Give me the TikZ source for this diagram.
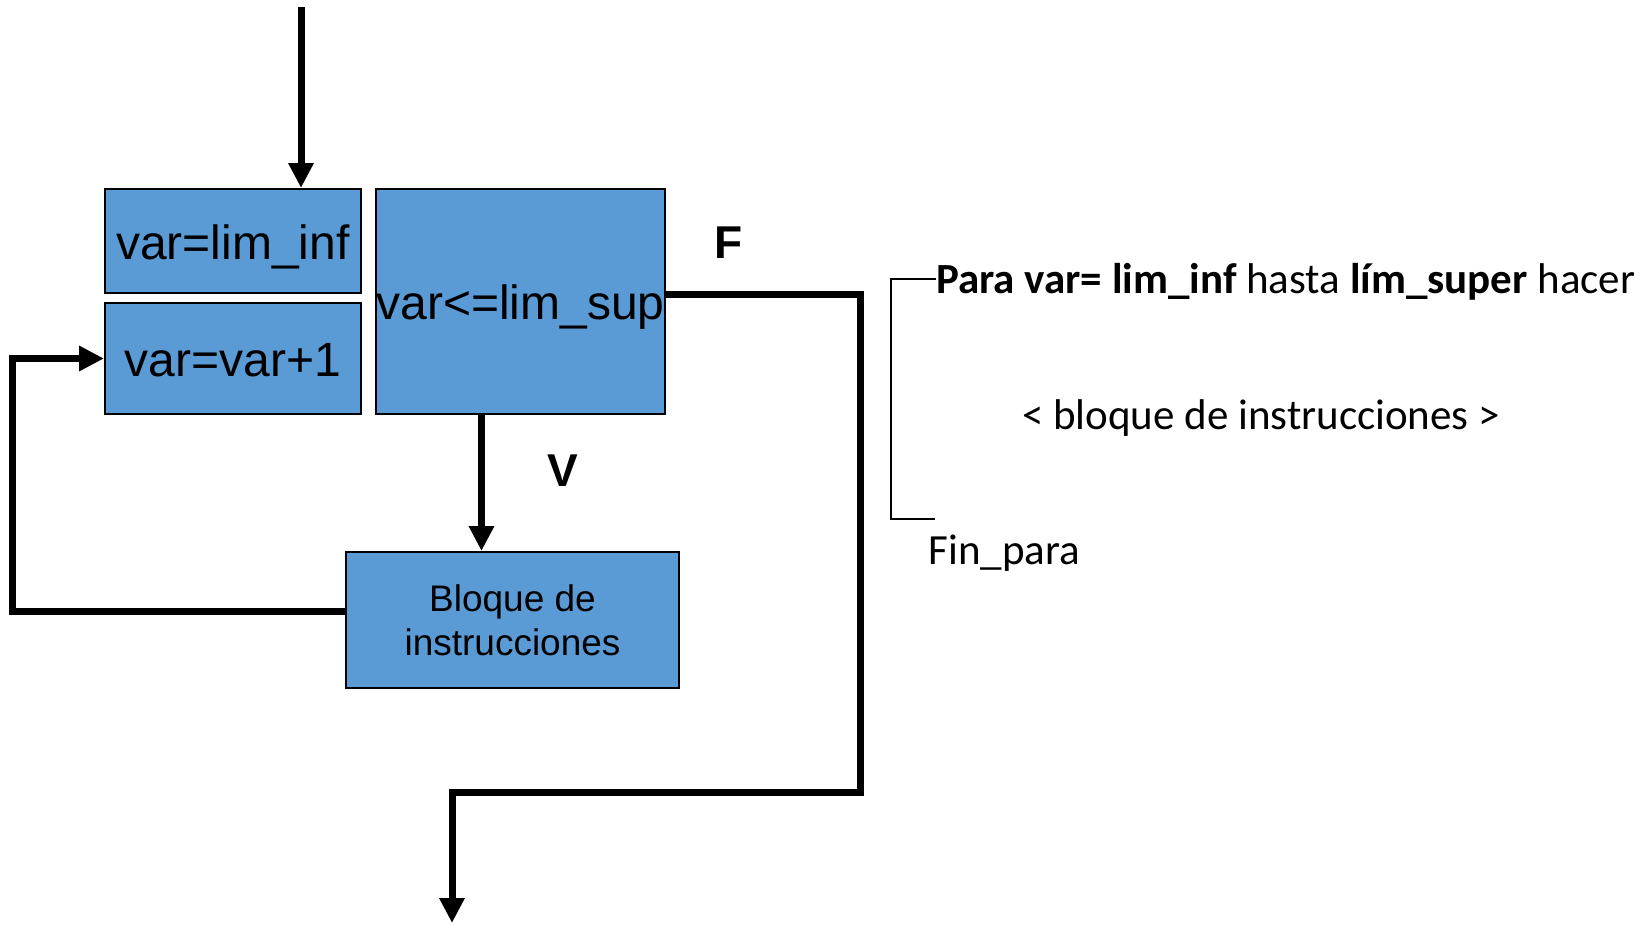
\documentclass[tikz,border=0pt]{standalone}
\usepackage{fontspec}
\setmainfont{Liberation Sans}
\newfontfamily\calib{Carlito}
\usetikzlibrary{arrows.meta}
\definecolor{boxblue}{RGB}{91,155,213}
\tikzset{
  blk/.style={draw=black, line width=2pt, fill=boxblue, inner sep=0pt, align=center},
  bigtxt/.style={font=\fontsize{48}{56}\selectfont, text height=36pt, text depth=0pt},
  midtxt/.style={font=\fontsize{37}{44}\selectfont},
  lbl/.style={font=\fontsize{46}{52}\selectfont\bfseries},
  ctxt/.style={font=\calib\fontsize{43}{48}\selectfont, inner sep=0pt},
  conn/.style={line width=7pt, -{Triangle[length=25pt,width=24pt]}},
  brk/.style={line width=1.8pt, draw=black}
}
\begin{document}
\begin{tikzpicture}[x=1pt,y=-1pt]
\useasboundingbox (0,0) rectangle (1645,924);
% boxes
\node[blk,bigtxt,minimum width=256,minimum height=104] (b1) at (233,241) {var=lim\_inf};
\node[blk,bigtxt,minimum width=256,minimum height=111] (b2) at (233,358.5) {var=var+1};
\node[blk,bigtxt,text height=35pt,minimum width=287,minimum height=225] (b3) at (520.5,301.5) {var<=lim\_sup};
\node[blk,midtxt,minimum width=333,minimum height=136] (b4) at (512.5,620) {Bloque de\\instrucciones};
% labels
\node[lbl] (F) at (729,243) {F};
\node[lbl] (V) at (563,471) {V};
% coordinates
\coordinate (top) at (301,7);
\coordinate (f1) at (860,294);
\coordinate (fb) at (452,792);
\coordinate (fend) at (452,923);
\coordinate (vx) at (481.5,0);
\coordinate (lc) at (12.6,611.6);
% connectors
\draw[conn] (top) -- (top |- b1.north);
\draw[conn] (b3.east |- f1) -- (f1) |- (fb) -- (fend);
\draw[conn] (b3.south -| vx) -- (b4.north -| vx);
\draw[conn] (b4.west |- lc) -- (lc) |- (b2.west);
% right side pseudo-code
\node[ctxt,anchor=west] (para) at (936,282) {\textbf{Para var=} \textbf{lim\_inf} hasta \textbf{lím\_super} hacer};
\node[ctxt] (bloq) at (1261,418) {< bloque de instrucciones >};
\node[ctxt,anchor=west] (fin) at (928.5,553) {Fin\_para};
\coordinate (bt) at (890.7,279);
\coordinate (bb) at (890.7,519);
\coordinate (be) at (934.7,519);
\draw[brk] (para.west |- bt) -- (bt) -- (bb) -- (be);
\end{tikzpicture}
\end{document}
